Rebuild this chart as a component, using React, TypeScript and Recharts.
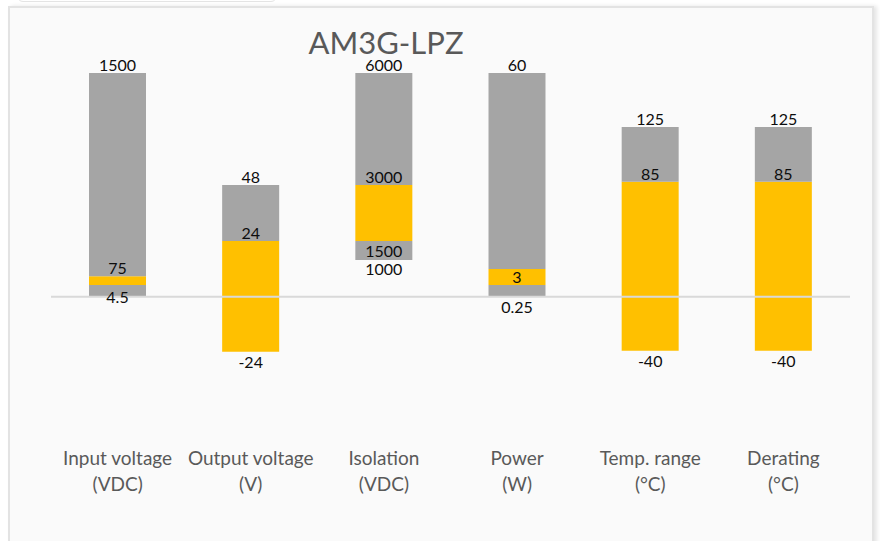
import React from 'react';
import { BarChart, Bar, XAxis, YAxis, ReferenceLine, LabelList } from 'recharts';

// categories and units shown under each bar
const categories = ['Input voltage', 'Output voltage', 'Isolation', 'Power', 'Temp. range', 'Derating'];
const units = ['(VDC)', '(V)', '(VDC)', '(W)', '(°C)', '(°C)'];

// segment heights, in % of the tallest bar (the chart is not to scale)
const base = [0, 0, 16.4, 0, 0, 0];
const grayLow = [5.2, 0, 8.5, 5.2, 0, 0];
const orangeUp = [4.0, 24.9, 25.0, 7.2, 51.4, 51.4];
const grayHigh = [90.8, 25.0, 50.1, 87.6, 24.5, 24.5];
const orangeDown = [0, -24.6, 0, 0, -24.1, -24.1];

// value labels
const baseLabels = ['', '', '1000', '', '', ''];
const lowLabels = ['4.5', '', '1500', '0.25', '', ''];
const orangeLabels = ['', '', '', '3', '', ''];
const midLabels = ['75', '24', '3000', '', '85', '85'];
const topLabels = ['1500', '48', '6000', '60', '125', '125'];
const negLabels = ['', '-24', '', '', '-40', '-40'];

const lowLabelPos = ['edge', '', 'center', 'below', '', ''];

const data = categories.map((name, i) => ({
  name,
  base: base[i],
  grayLow: grayLow[i],
  orangeUp: orangeUp[i],
  grayHigh: grayHigh[i],
  orangeDown: orangeDown[i],
}));

const FONT = 'Lato, "Open Sans", sans-serif';
const GRAY = '#A5A5A5';
const ORANGE = '#FFC000';

const PLOT_LEFT = 51;
const PLOT_RIGHT = 850;
const band = (PLOT_RIGHT - PLOT_LEFT) / categories.length;

// place a label relative to the segment box: dy from top or bottom edge
const makeLabel = (labels: string[], where: (i: number) => string) => (props: any) => {
  const vb = props.viewBox || props;
  const { x, y, width, height } = vb;
  // LabelList skips empty segments, so find the category from the bar position
  const i = Math.floor((x + width / 2 - PLOT_LEFT) / band);
  const text = labels[i];
  if (!text) return null;
  const top = Math.min(y, y + height);
  const bottom = Math.max(y, y + height);
  const mode = where(i);
  let cy = top - 8;
  if (mode === 'center') cy = (top + bottom) / 2;
  else if (mode === 'below') cy = bottom + 10;
  else if (mode === 'edge') cy = bottom;
  else if (mode === 'belowTop') cy = top + 9;
  else if (mode === 'aboveBottom') cy = bottom - 8;
  return (
    <text x={x + width / 2} y={cy + 6} textAnchor="middle" fontSize={16} fill="#0d0d0d" fontFamily={FONT}>
      {text}
    </text>
  );
};

const CategoryTick = (props: any) => {
  const { x, y, payload } = props;
  const i = categories.indexOf(payload.value);
  return (
    <text x={x} textAnchor="middle" fontSize={19} fill="#595959" fontFamily={FONT}>
      <tspan x={x} y={y + 26}>{payload.value}</tspan>
      <tspan x={x} y={y + 52}>{units[i]}</tspan>
    </text>
  );
};

export default function App() {
  return (
    <div style={{ position: 'absolute', left: 0, top: 0, width: 880, height: 541, background: '#fff', overflow: 'hidden' }}>
      <div style={{ position: 'absolute', left: 17, top: -12, width: 258, height: 12, border: '1px solid #e4e4e4', borderRadius: 6, background: '#fff' }} />
      <div
        style={{
          position: 'absolute',
          left: 8,
          top: 6,
          width: 862,
          height: 560,
          border: '2px solid #e3e3e3',
          background: '#fafafa',
          boxShadow: '3px 0 4px #e6e6e6',
        }}
      />
      <div style={{ position: 'absolute', left: 0, top: 0 }}>
        <BarChart
          width={880}
          height={541}
          data={data}
          stackOffset="sign"
          margin={{ top: 73, right: 880 - PLOT_RIGHT, bottom: 0, left: PLOT_LEFT }}
        >
          <text x={386} y={54} textAnchor="middle" fontSize={31} fill="#595959" fontFamily={FONT}>
            AM3G-LPZ
          </text>
          <XAxis dataKey="name" axisLine={false} tickLine={false} height={110} tick={<CategoryTick />} interval={0} />
          <YAxis hide domain={[-60, 100]} />
          <Bar dataKey="base" stackId="a" fill="transparent" barSize={57} isAnimationActive={false}>
            <LabelList content={makeLabel(baseLabels, () => 'belowTop')} />
          </Bar>
          <Bar dataKey="grayLow" stackId="a" fill={GRAY} barSize={57} isAnimationActive={false}>
            <LabelList content={makeLabel(lowLabels, (i) => lowLabelPos[i])} />
          </Bar>
          <Bar dataKey="orangeUp" stackId="a" fill={ORANGE} barSize={57} isAnimationActive={false}>
            <LabelList content={makeLabel(orangeLabels, () => 'center')} />
          </Bar>
          <Bar dataKey="grayHigh" stackId="a" fill={GRAY} barSize={57} isAnimationActive={false}>
            <LabelList content={makeLabel(topLabels, () => 'above')} />
            <LabelList content={makeLabel(midLabels, () => 'aboveBottom')} />
          </Bar>
          <Bar dataKey="orangeDown" stackId="a" fill={ORANGE} barSize={57} isAnimationActive={false}>
            <LabelList content={makeLabel(negLabels, () => 'below')} />
          </Bar>
          <ReferenceLine y={0} stroke="#d9d9d9" strokeWidth={2} />
        </BarChart>
      </div>
    </div>
  );
}
